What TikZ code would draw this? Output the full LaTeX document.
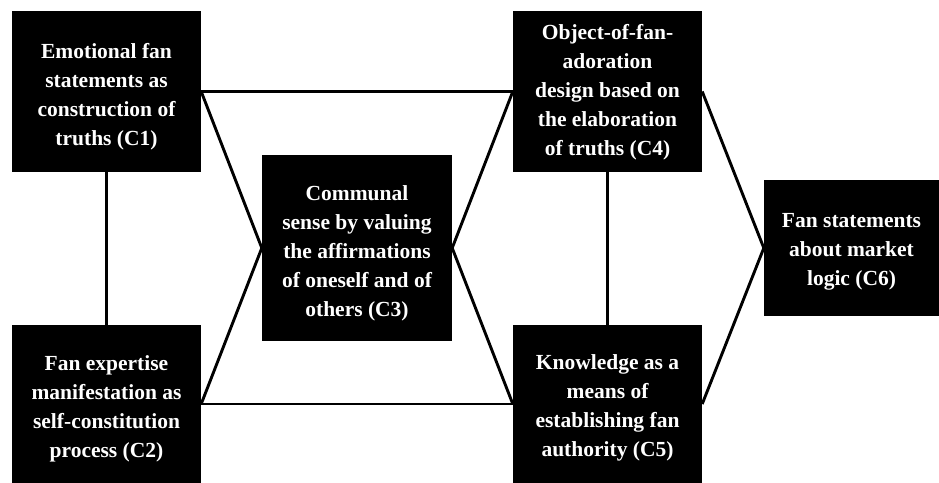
\documentclass[tikz,border=0pt]{standalone}
\usepackage{fontspec}
\setmainfont{Liberation Serif}
\begin{document}
\begin{tikzpicture}[x=1pt,y=-1pt,
  box/.style={fill=black, inner sep=0pt, anchor=center},
  lbl/.style={text=white, font=\bfseries\fontsize{21.5}{29}\selectfont,
    align=center, inner sep=0pt, anchor=center},
  link/.style={line width=2.9pt, black}]
\useasboundingbox[fill=white] (0,0) rectangle (939,482);
\node[box, minimum width=189pt, minimum height=161pt] (c1) at (106.5,91.5) {};
\node[box, minimum width=189pt, minimum height=158pt] (c2) at (106.5,404) {};
\node[box, minimum width=190pt, minimum height=186pt] (c3) at (357,248) {};
\node[box, minimum width=189pt, minimum height=161pt] (c4) at (607.5,91.5) {};
\node[box, minimum width=189pt, minimum height=158pt] (c5) at (607.5,404) {};
\node[box, minimum width=175pt, minimum height=136pt] (c6) at (851.5,248) {};
\node[lbl] (t1) at ([yshift=-5pt]c1.center)
  {Emotional fan\\statements as\\construction of\\truths (C1)};
\node[lbl] (t2) at ([yshift=-5pt]c2.center)
  {Fan expertise\\manifestation as\\self-constitution\\process (C2)};
\node[lbl] (t3) at ([yshift=-5pt]c3.center)
  {Communal\\sense by valuing\\the affirmations\\of oneself and of\\others (C3)};
\node[lbl] (t4) at ([yshift=-1pt]c4.center)
  {Object-of-fan-\\adoration\\design based on\\the elaboration\\of truths (C4)};
\node[lbl] (t5) at ([yshift=-4pt]c5.center)
  {Knowledge as a\\means of\\establishing fan\\authority (C5)};
\node[lbl] (t6) at ([yshift=-4pt]c6.center)
  {Fan statements\\about market\\logic (C6)};
\draw[link] (c1.east) -- (c4.west);
\draw[link] (c2.east) -- (c5.west);
\draw[link] (c1.east) -- (c3.west);
\draw[link] (c2.east) -- (c3.west);
\draw[link] (c4.west) -- (c3.east);
\draw[link] (c5.west) -- (c3.east);
\draw[link] (c4.east) -- (c6.west);
\draw[link] (c5.east) -- (c6.west);
\draw[link] (c1.south) -- (c2.north);
\draw[link] (c4.south) -- (c5.north);
\end{tikzpicture}
\end{document}
